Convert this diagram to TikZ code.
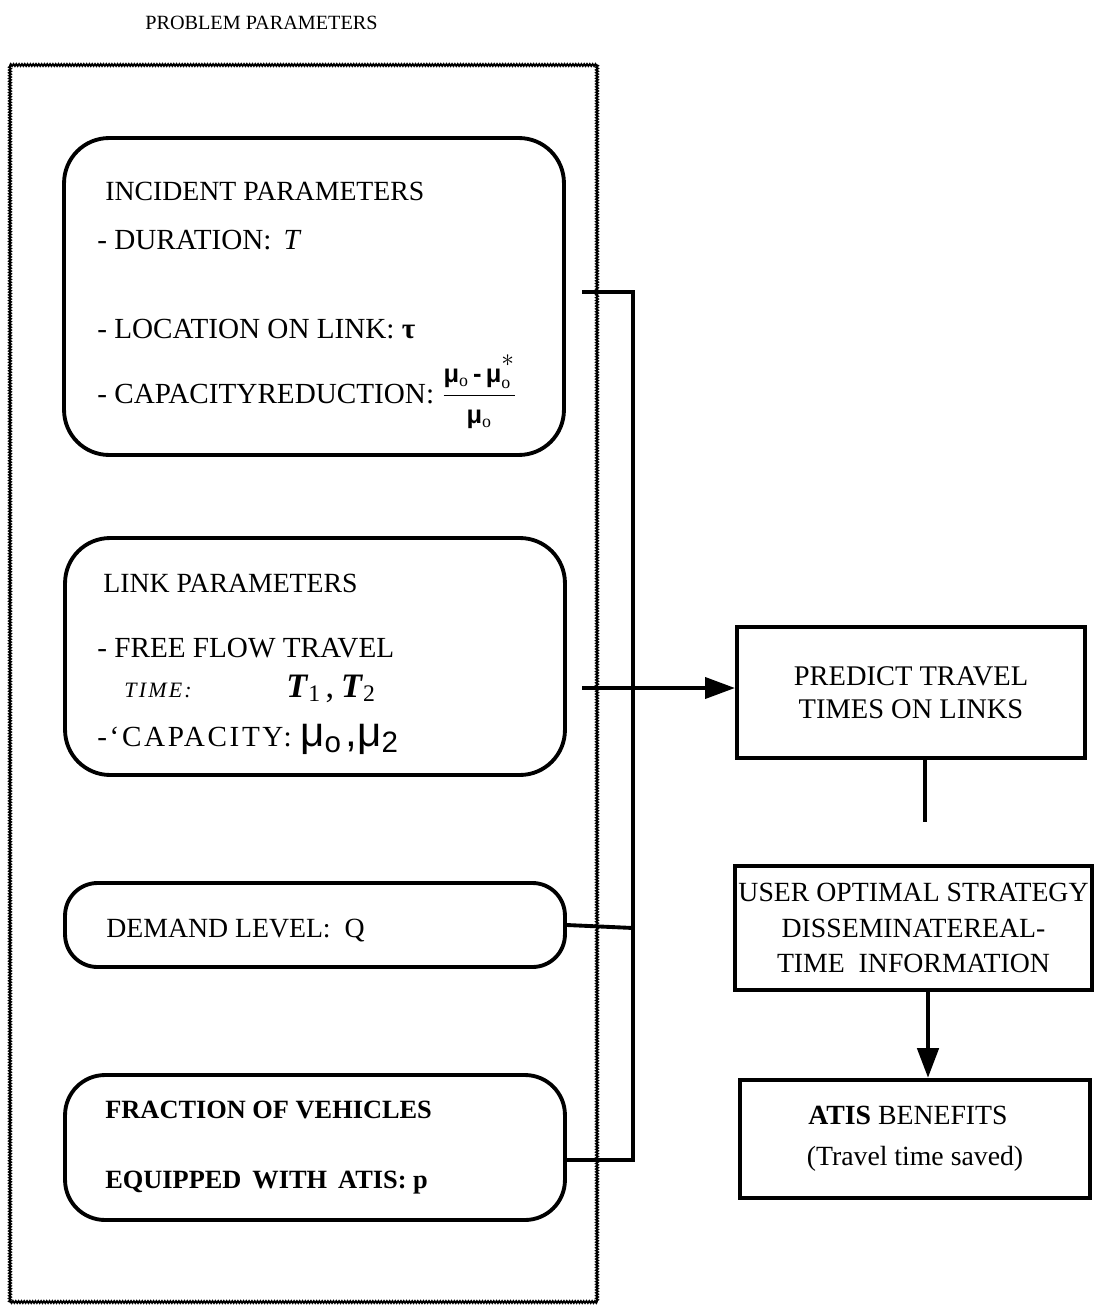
\documentclass[tikz,border=0pt]{standalone}
\usepackage{fontspec}
\setmainfont{Liberation Serif}
\newfontfamily\musans{Liberation Sans}
\usetikzlibrary{arrows.meta,decorations.pathmorphing}
\newcommand{\mufrac}{$\displaystyle\frac{\mbox{\musans\bfseries\fontsize{14.5}{14.5}\selectfont μ$_{\mathrm o}$\,-\,μ$_{\mathrm o}^{\raisebox{0.5ex}{$*$}}$}}{\mbox{\musans\bfseries\fontsize{14.5}{14.5}\selectfont μ$_{\mathrm o}$}}$}
\begin{document}
\begin{tikzpicture}[x=0.02cm,y=-0.02cm,
  rbox/.style={draw, line width=2.2pt, rounded corners=#1, inner sep=0pt, minimum width=10cm},
  sbox/.style={draw, line width=2.4pt, inner sep=0pt, align=center, font=\fontsize{15.8}{19}\selectfont},
  txt/.style={anchor=base west, inner sep=0pt, font=\fontsize{15.8}{18}\selectfont},
  itm/.style={anchor=base west, inner sep=0pt, font=\fontsize{16.6}{19}\selectfont},
  wire/.style={line width=2.2pt},
  arr/.style={line width=2pt, -{Triangle[length=17pt,width=12pt]}},
  wavy/.style={line width=1pt, decorate, decoration={zigzag,segment length=1.6pt,amplitude=0.6pt}}
]
\useasboundingbox (0,0) rectangle (1098,1311);

% title and outer frame
\node[txt, font=\fontsize{11.5}{14}\selectfont] (title) at (145,30) {PROBLEM PARAMETERS};
\coordinate (fa) at (10,65);
\coordinate (fb) at (597,65);
\coordinate (fc) at (597,1302);
\coordinate (fd) at (10,1302);
\draw[wavy] (fa) -- (fb);
\draw[wavy] (fb) -- (fc);
\draw[wavy] (fc) -- (fd);
\draw[wavy] (fd) -- (fa);

% left boxes
\node[rbox=0.9cm, minimum height=6.34cm] (incident) at (314,296.5) {};
\node[rbox=0.9cm, minimum height=4.74cm] (link) at (315,656.5) {};
\node[rbox=0.65cm, minimum height=1.68cm] (demand) at (315,925) {};
\node[rbox=0.8cm, minimum height=2.9cm] (fraction) at (315,1147.5) {};

% incident texts
\node[txt] (inc1) at (105,201) {INCIDENT PARAMETERS};
\node[itm] (inc2) at (97,250) {- DURATION:\, \textit{T}};
\node[itm] (inc3) at (97,338) {- LOCATION ON LINK: \textbf{τ}};
\node[itm] (inc4) at (97,403) {- CAPACITYREDUCTION: \mufrac};

% link texts
\node[txt] (lk1) at (103,592) {LINK PARAMETERS};
\node[itm] (lk2) at (97,657) {- FREE FLOW TRAVEL};
\node[txt, font=\fontsize{12.5}{14}\selectfont\itshape\addfontfeature{LetterSpace=10}] (lk3) at (124,697) {TIME:};
\node[txt, font=\fontsize{19.5}{24}\selectfont] (lk4) at (286,697)
  {\textbf{\textit{T}}\raisebox{-0.3ex}{\fontsize{13.5}{14}\selectfont 1}\kern3pt,\kern4pt
   \textbf{\textit{T}}\raisebox{-0.3ex}{\fontsize{13.5}{14}\selectfont 2}};
\node[itm] (lk5) at (97,746) {{\addfontfeature{LetterSpace=9}-‘CAPACITY:}%
  \kern5pt{\musans\fontsize{24}{24}\selectfont μ\textsubscript{o}\kern2pt,μ\textsubscript{2}}};

% demand and fraction texts
\node[txt] (dm1) at (106,937) {DEMAND LEVEL:\ \ Q};
\node[txt, font=\fontsize{15}{18}\selectfont\bfseries] (fr1) at (105,1118) {FRACTION\ OF\ VEHICLES};
\node[txt, font=\fontsize{15}{18}\selectfont\bfseries] (fr2) at (105,1188) {EQUIPPED\ \,WITH\ \,ATIS: p};

% right boxes
\node[sbox, minimum width=6.96cm, minimum height=2.62cm, font=\fontsize{16.2}{19}\selectfont] (predict) at (911,692.5)
  {PREDICT TRAVEL\\TIMES ON LINKS};
\node[sbox, minimum width=7.14cm, minimum height=2.48cm, font=\fontsize{15.8}{20}\selectfont] (user) at (913.5,928)
  {USER OPTIMAL STRATEGY\\DISSEMINATEREAL-\\TIME\ \ INFORMATION};
\node[sbox, minimum width=7cm, minimum height=2.36cm, font=\fontsize{15.8}{23.5}\selectfont] (atis) at (915,1139)
  {\hspace*{-8pt}\textbf{ATIS} BENEFITS\\(Travel time saved)};

% connectors
\coordinate (incout) at (582,292);
\coordinate (bustop) at (633,292);
\coordinate (busbot) at (633,1160);
\coordinate (busdem) at (633,928);
\coordinate (linkout) at (582,688);
\coordinate (predend) at (925,822);
\coordinate (dnx) at (928,0);

\draw[wire] (incout) -- (bustop) -- (busbot) -- (fraction.east |- busbot);
\draw[wire] (demand.east) -- (busdem);
\draw[arr] (linkout) -- (predict.west |- linkout);
\draw[wire, line width=2.6pt] (predict.south -| predend) -- (predend);
\draw[arr, line width=2.6pt] (user.south -| dnx) -- (atis.north -| dnx);
\end{tikzpicture}
\end{document}
